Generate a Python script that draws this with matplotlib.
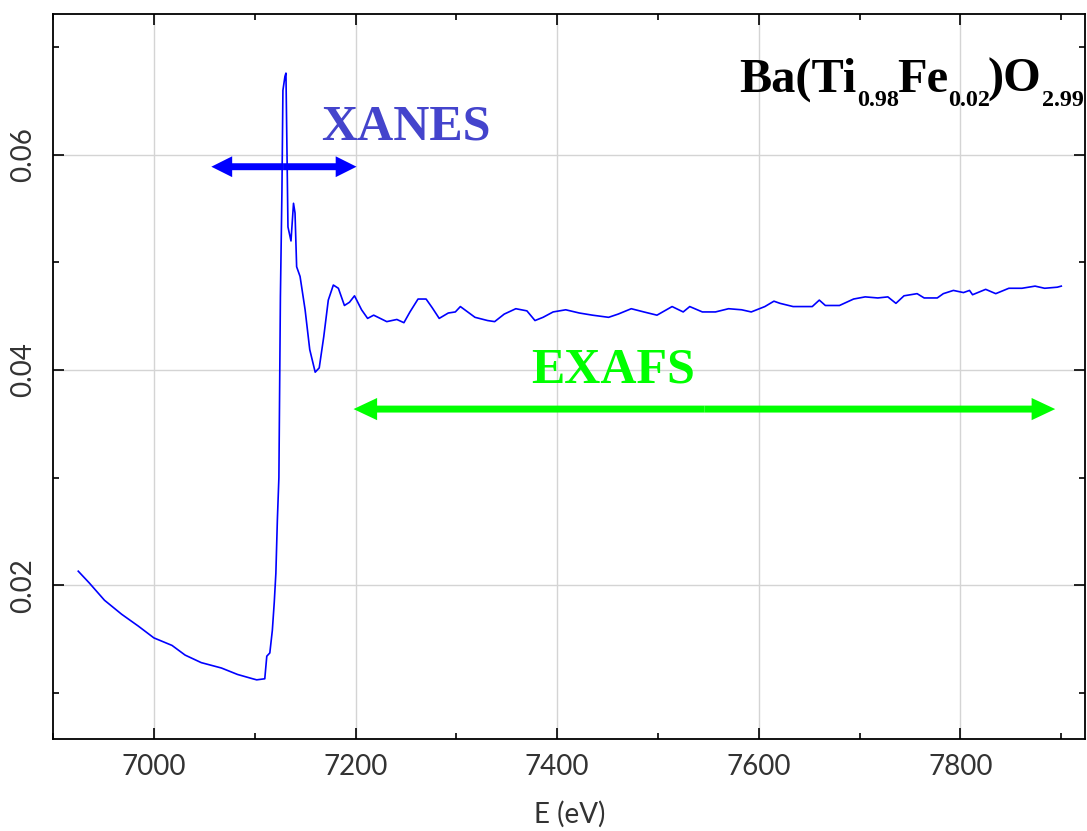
import numpy as np
import matplotlib
matplotlib.use('Agg')
import matplotlib.pyplot as plt
from matplotlib.transforms import IdentityTransform

# spectrum (E in eV, absorption)
energy = [6925, 6936, 6951, 6968, 6984.5, 7000, 7018, 7031, 7047, 7067, 7083,
          7098, 7102, 7110, 7112, 7115, 7117.5, 7119.4, 7121, 7122.5, 7124,
          7125.5, 7127, 7128, 7130, 7131, 7132, 7133, 7136, 7138.5, 7140,
          7141.6, 7145, 7150, 7154.6, 7160, 7164, 7168.5, 7173, 7178, 7183,
          7189, 7194, 7199, 7206, 7212, 7218, 7231, 7241, 7248, 7254, 7262,
          7270, 7276, 7283, 7292, 7299, 7304, 7318.5, 7331, 7338, 7347.5, 7359,
          7370, 7378, 7386, 7396, 7408.5, 7422, 7435, 7451, 7460.5, 7473.5,
          7486, 7499, 7514, 7525, 7531.5, 7544, 7557, 7570, 7583, 7592.5, 7606,
          7615, 7621, 7634, 7653, 7660, 7666, 7680, 7694, 7705.5, 7718, 7728,
          7736, 7744, 7757, 7764, 7777, 7783, 7793, 7803, 7809, 7812, 7825,
          7835, 7848, 7861, 7874, 7883.5, 7896, 7900]
mu = [0.0213, 0.0202, 0.0186, 0.0173, 0.0162, 0.0151, 0.0144, 0.0135, 0.0128,
      0.0123, 0.0117, 0.0113, 0.0112, 0.0113, 0.0134, 0.0137, 0.0158, 0.0184,
      0.0211, 0.0261, 0.0300, 0.0468, 0.0565, 0.0660, 0.0673, 0.0676, 0.0605,
      0.0533, 0.0520, 0.0555, 0.0546, 0.0496, 0.0487, 0.0456, 0.0419, 0.0398,
      0.0402, 0.0431, 0.0465, 0.0479, 0.0476, 0.0460, 0.0463, 0.0469, 0.0456,
      0.0448, 0.0451, 0.0445, 0.0447, 0.0444, 0.0454, 0.0466, 0.0466, 0.0458,
      0.0448, 0.0453, 0.0454, 0.0459, 0.0449, 0.0446, 0.0445, 0.0452, 0.0457,
      0.0455, 0.0446, 0.0449, 0.0454, 0.0456, 0.0453, 0.0451, 0.0449, 0.0452,
      0.0457, 0.0454, 0.0451, 0.0459, 0.0454, 0.0459, 0.0454, 0.0454, 0.0457,
      0.0456, 0.0454, 0.0459, 0.0464, 0.0462, 0.0459, 0.0459, 0.0465, 0.0460,
      0.0460, 0.0466, 0.0468, 0.0467, 0.0468, 0.0462, 0.0469, 0.0471, 0.0467,
      0.0467, 0.0471, 0.0474, 0.0472, 0.0474, 0.0470, 0.0475, 0.0471, 0.0476,
      0.0476, 0.0478, 0.0476, 0.0477, 0.0478]

xanes_range = (7057, 7201)
exafs_range = (7198, 7894)
formula = [('Ba(Ti', 'main'), ('0.98', 'sub'), ('Fe', 'main'), ('0.02', 'sub'),
           (')O', 'main'), ('2.99', 'sub')]

plt.rcParams['font.family'] = ['Lato', 'DejaVu Sans']
fig = plt.figure(figsize=(10.87, 8.31), dpi=100)
ax = fig.add_axes([0.0488, 0.1107, 0.9498, 0.8725])

ax.plot(energy, mu, color='#0000ff', lw=1.2, zorder=3)

ax.set_xlim(6925, 7924)
ax.set_ylim(0.0057, 0.0731)
ax.set_xticks([7000, 7200, 7400, 7600, 7800])
ax.set_xticks(np.arange(6900, 7950, 100), minor=True)
ax.set_yticks([0.02, 0.04, 0.06])
ax.set_yticks([0.01, 0.03, 0.05, 0.07], minor=True)
ax.grid(True, which='major', color='#d4d4d4', lw=1.0)
ax.set_axisbelow(True)
ax.tick_params(which='both', direction='in', top=True, right=True,
               color='black', labelcolor='#333333', labelsize=20)
ax.tick_params(which='major', length=8, width=1.2)
ax.tick_params(which='minor', length=4.3, width=1.2)
ax.tick_params(axis='x', pad=11)
ax.tick_params(axis='y', pad=12)
for lbl in ax.get_yticklabels():
    lbl.set_rotation(90)
    lbl.set_va('center')
for sp in ax.spines.values():
    sp.set_linewidth(1.3)
ax.set_xlabel('E (eV)', fontsize=20, color='#333333', labelpad=15)


def double_arrow(x0, x1, y, color, shaft, head_w, head_l):
    mid = 0.5 * (x0 + x1)
    style = 'simple,head_length=%g,head_width=%g,tail_width=%g' % (head_l, head_w, shaft)
    for end in (x0, x1):
        ax.annotate('', xy=(end, y), xytext=(mid, y),
                    arrowprops=dict(arrowstyle=style, color=color, lw=0,
                                    shrinkA=0, shrinkB=0, mutation_scale=1),
                    zorder=2)


double_arrow(xanes_range[0], xanes_range[1], 0.0589, '#0000ff', 5, 15, 15)
double_arrow(exafs_range[0], exafs_range[1], 0.03637, '#00ff00', 5, 16, 17)

ax.text(7250, 0.0614, 'XANES', color='#4444cc', fontsize=36, fontweight='bold',
        family='Liberation Serif', ha='center', va='baseline')
ax.text(7456, 0.0388, 'EXAFS', color='#00ff00', fontsize=36, fontweight='bold',
        family='Liberation Serif', ha='center', va='baseline')


# chemical formula built piece by piece so subscripts can be small
def place_formula(x_left, y_base, main_size, sub_size, drop, rend):
    pieces = []
    px = x_left
    for s, kind in formula:
        size = main_size if kind == 'main' else sub_size
        dy = 0 if kind == 'main' else drop
        t = fig.text(px, y_base - dy, s, transform=IdentityTransform(),
                     fontsize=size, fontweight='bold', family='Liberation Serif',
                     va='baseline')
        px = t.get_window_extent(rend).x1 - (2 if kind == 'sub' else 0)
        pieces.append(t)
    return pieces, px


fig.canvas.draw()
rend = fig.canvas.get_renderer()
x_start, y_base = ax.transData.transform((7581, 0.06586))
x_end = 1083
pieces, px = place_formula(x_start, y_base, 36, 18, 14, rend)
k = (x_end - x_start) / (px - x_start)
for t in pieces:
    t.remove()
place_formula(x_start, y_base, 36 * k, 18 * k, 14, rend)

fig.savefig('out.png', dpi=100)
